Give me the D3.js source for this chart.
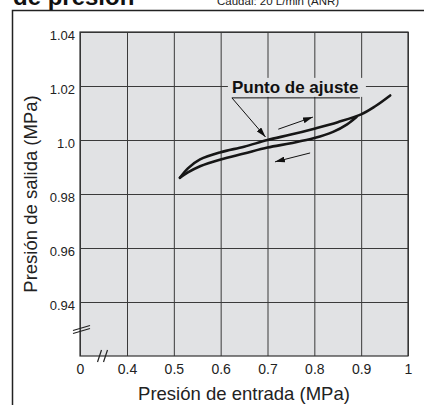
<!DOCTYPE html>
<meta charset="utf-8">
<style>
body { margin: 0; background: #fff; }
svg { display: block; font-family: "Liberation Sans", Arial, Helvetica, sans-serif; }
.grid line { stroke: #3a3a3a; stroke-width: 1; }
.grid path { display: none; }
.ticklbl text { fill: #222; }
.curve { fill: none; stroke: #161616; stroke-width: 2.6; stroke-linecap: round; }
</style>
<body>
<script src="https://cdn.jsdelivr.net/npm/d3@7"></script>
<script>

// rising branch (inlet pressure increasing)
var inletUp  = [0.513, 0.53, 0.556, 0.6, 0.65, 0.7, 0.75, 0.8, 0.85, 0.9, 0.93, 0.962];
var outletUp = [0.986, 0.9895, 0.9928, 0.9955, 0.9975, 1.0, 1.002, 1.0042, 1.0066, 1.0095, 1.0125, 1.0165];

// falling branch (inlet pressure decreasing)
var inletDown  = [0.513, 0.53, 0.556, 0.6, 0.65, 0.7, 0.75, 0.8, 0.84, 0.87, 0.89];
var outletDown = [0.986, 0.988, 0.9903, 0.9928, 0.995, 0.9972, 0.9988, 1.0007, 1.003, 1.0058, 1.0085];

var xTicks = [0, 0.4, 0.5, 0.6, 0.7, 0.8, 0.9, 1];
var xTickLabels = ["0", "0.4", "0.5", "0.6", "0.7", "0.8", "0.9", "1"];
var yTicks = [0.94, 0.96, 0.98, 1.0, 1.02, 1.04];
var yTickLabels = ["0.94", "0.96", "0.98", "1.0", "1.02", "1.04"];

var setPoint = [0.7, 1.0];
// direction arrows: [x1, y1, x2, y2] in data units
var arrowUp   = [0.723, 1.004, 0.797, 1.0085];
var arrowDown = [0.791, 0.9952, 0.716, 0.9919];

var W = 424, H = 405;
var margin = {top: 32, right: 16, bottom: 49, left: 80},
    width = W - margin.left - margin.right,
    height = H - margin.top - margin.bottom;

// x axis is broken between 0 and 0.4
var x = d3.scaleLinear()
    .domain([0, 0.4, 1])
    .range([0, 47, width]);

var y = d3.scaleLinear()
    .domain([0.92, 1.04])
    .range([height, 0]);

var svg = d3.select("body").append("svg")
    .attr("width", W)
    .attr("height", H);

// outer frame of the figure
svg.append("path")
    .attr("d", "M12.5," + H + "V10.5H" + W)
    .attr("fill", "none")
    .attr("stroke", "#222")
    .attr("stroke-width", 1.5);

svg.append("text")
    .attr("x", 13)
    .attr("y", 5)
    .attr("font-size", 24)
    .attr("font-weight", "bold")
    .attr("fill", "#111")
    .text("de presión");

svg.append("text")
    .attr("x", 217)
    .attr("y", 5)
    .attr("font-size", 11.5)
    .attr("fill", "#222")
    .text("Caudal: 20 L/min (ANR)");

var g = svg.append("g")
    .attr("transform", "translate(" + margin.left + "," + margin.top + ")");

g.append("rect")
    .attr("width", width)
    .attr("height", height)
    .attr("fill", "#e1e2e4");

g.append("g")
    .attr("class", "grid")
    .attr("transform", "translate(0," + height + ")")
    .call(d3.axisBottom(x).tickValues(xTicks).tickSize(height).tickFormat(""))
    .selectAll("line").attr("transform", "translate(0," + (-height) + ")");

g.append("g")
    .attr("class", "grid")
    .call(d3.axisLeft(y).tickValues(yTicks).tickSize(-width).tickFormat(""));

g.append("rect")
    .attr("width", width)
    .attr("height", height)
    .attr("fill", "none")
    .attr("stroke", "#333")
    .attr("stroke-width", 1.2);

// tick labels
var xl = g.append("g")
    .attr("class", "ticklbl")
    .attr("transform", "translate(0," + height + ")")
    .call(d3.axisBottom(x).tickValues(xTicks).tickSize(0).tickPadding(8)
      .tickFormat(function(d, i) { return xTickLabels[i]; }));
xl.select(".domain").remove();
xl.selectAll("text").attr("font-size", 14).attr("font-family", null);

var yl = g.append("g")
    .attr("class", "ticklbl")
    .call(d3.axisLeft(y).tickValues(yTicks).tickSize(0).tickPadding(5)
      .tickFormat(function(d, i) { return yTickLabels[i]; }));
yl.select(".domain").remove();
yl.selectAll("text").attr("font-size", 13).attr("font-family", null).attr("dy", "0.55em");

// axis break marks
var brk = g.append("g").attr("stroke", "#222").attr("stroke-width", 1.2);
var by = y(0.93);
[-1.5, 1.5].forEach(function(o) {
  brk.append("line").attr("x1", -7).attr("y1", by + 3 + o).attr("x2", 10).attr("y2", by - 2 + o);
});
var bx = x(0.2);
[-3, 3].forEach(function(o) {
  brk.append("line").attr("x1", bx - 3 + o).attr("y1", height + 6).attr("x2", bx + 1 + o).attr("y2", height - 6);
});

// curves
var line = d3.line()
    .x(function(d) { return x(d[0]); })
    .y(function(d) { return y(d[1]); })
    .curve(d3.curveCatmullRom);

g.append("path")
    .attr("class", "curve")
    .attr("d", line(d3.zip(inletUp, outletUp)));

g.append("path")
    .attr("class", "curve")
    .attr("d", line(d3.zip(inletDown, outletDown)));

// arrow markers
var defs = svg.append("defs");
defs.append("marker")
    .attr("id", "head")
    .attr("viewBox", "0 0 10 6")
    .attr("refX", 10).attr("refY", 3)
    .attr("markerWidth", 10).attr("markerHeight", 6)
    .attr("markerUnits", "userSpaceOnUse")
    .attr("orient", "auto")
  .append("path")
    .attr("d", "M0,0L10,3L0,6Z")
    .attr("fill", "#111");

// direction arrows
[arrowUp, arrowDown].forEach(function(a) {
  g.append("line")
      .attr("x1", x(a[0])).attr("y1", y(a[1]))
      .attr("x2", x(a[2])).attr("y2", y(a[3]))
      .attr("stroke", "#111").attr("stroke-width", 1)
      .attr("marker-end", "url(#head)");
});

// set point label
var lx = x(0.624), ly = y(1.0156);
g.append("rect")
    .attr("x", lx - 4).attr("y", ly - 20)
    .attr("width", 138).attr("height", 19)
    .attr("fill", "#e1e2e4");
g.append("text")
    .attr("x", lx).attr("y", ly - 5)
    .attr("font-size", 17)
    .attr("font-weight", "bold")
    .attr("fill", "#111")
    .text("Punto de ajuste");
g.append("line")
    .attr("x1", lx).attr("y1", ly).attr("x2", lx + 128).attr("y2", ly)
    .attr("stroke", "#111").attr("stroke-width", 1);
g.append("line")
    .attr("x1", lx).attr("y1", ly)
    .attr("x2", x(setPoint[0]) - 2).attr("y2", y(setPoint[1]) - 3)
    .attr("stroke", "#111").attr("stroke-width", 1)
    .attr("marker-end", "url(#head)");

// axis titles
svg.append("text")
    .attr("x", 244)
    .attr("y", 400)
    .attr("text-anchor", "middle")
    .attr("font-size", 18.5)
    .attr("fill", "#222")
    .text("Presión de entrada (MPa)");

svg.append("text")
    .attr("transform", "translate(37,194) rotate(-90)")
    .attr("text-anchor", "middle")
    .attr("font-size", 18.5)
    .attr("fill", "#222")
    .text("Presión de salida (MPa)");

</script>
